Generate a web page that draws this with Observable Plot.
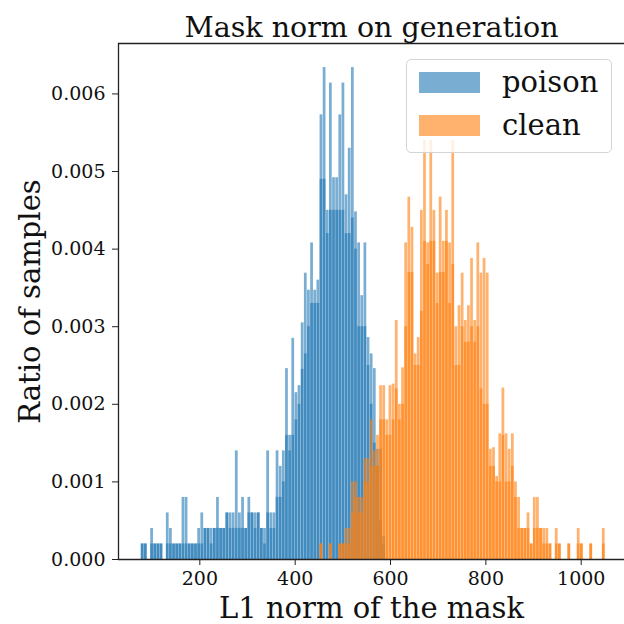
<!DOCTYPE html>
<html>
<head>
<meta charset="utf-8">
<script src="https://cdn.jsdelivr.net/npm/d3@7"></script>
<script src="https://cdn.jsdelivr.net/npm/@observablehq/plot@0.6"></script>
<style>
  body { margin: 0; background: #fff; }
  #chart { position: relative; width: 624px; height: 624px; font-family: "DejaVu Serif", serif; color: #111; }
  #chart svg { display: block; }
  .legend { position: absolute; left: 406px; top: 59px; width: 206px; height: 94px;
            box-sizing: border-box; border: 1px solid #d4d4d4; border-radius: 5px;
            background: rgba(255,255,255,0.8); }
  .legend .sw { position: absolute; left: 12px; width: 61px; height: 21px; }
  .legend .lab { position: absolute; left: 95px; font-size: 29px; line-height: 29px; }
</style>
</head>
<body>
<div id="chart"></div>
<script>
// Shared histogram bin grid (L1 norm units)
const binWidth = 6.58;
const poisonStart = 76.8;
const cleanStart = 451.86;

// Poison samples: two overlaid histogram layers (taller / shorter per bin)
const poisonTop = [
  0.0002, 0.0002, 0, 0.0004, 0.0002, 0.0002, 0.0002, 0, 0.0006, 0.0004,
  0.0002, 0.0002, 0.0002, 0.0008, 0.0008, 0.0002, 0.0002, 0.0002, 0.0004, 0.0006,
  0.0004, 0.0004, 0.0004, 0.0004, 0.0008, 0.0004, 0.0004, 0.0006, 0.0006, 0.0006,
  0.0014, 0.0006, 0.0008, 0.0004, 0.0008, 0.0006, 0.0006, 0.0006, 0.0004, 0.0004,
  0.0014, 0.0006, 0.0006, 0.0014, 0.0012, 0.0014, 0.00246, 0.0016, 0.00285, 0.00215,
  0.00224, 0.00305, 0.00369, 0.00347, 0.00408, 0.00347, 0.0036, 0.00573, 0.00634, 0.0045,
  0.00614, 0.00492, 0.00492, 0.00573, 0.00614, 0.0047, 0.0053, 0.00634, 0.00448, 0.00408,
  0.0034, 0.00408, 0.00286, 0.00265, 0.00246, 0.00142, 0.00142, 0.0003
];
const poisonBase = [
  0.0002, 0.0002, 0, 0.0002, 0.0002, 0.0002, 0.0002, 0, 0.0002, 0.0002,
  0.0002, 0.0002, 0.0002, 0.0002, 0.0002, 0.0002, 0.0002, 0.0002, 0.0002, 0.0002,
  0.0004, 0.0004, 0.0002, 0.0004, 0.0004, 0.0004, 0.0004, 0.0006, 0.0004, 0.0004,
  0.0004, 0.0004, 0.0004, 0.0004, 0.0006, 0.0006, 0.0004, 0.0006, 0.0004, 0.0002,
  0.0006, 0.0004, 0.0004, 0.0008, 0.0008, 0.001, 0.0016, 0.0014, 0.0016, 0.0018,
  0.002, 0.00245, 0.00265, 0.003, 0.0033, 0.0033, 0.0033, 0.0049, 0.0049, 0.0042,
  0.0045, 0.0045, 0.0045, 0.0045, 0.0045, 0.0042, 0.0042, 0.0044, 0.004, 0.003,
  0.003, 0.003, 0.0025, 0.002, 0.0015, 0.0012, 0.0005, 0.0002
];

// Clean samples: two overlaid histogram layers (taller / shorter per bin)
const cleanTop = [
  0.0002, 0, 0, 0.0002, 0, 0, 0.0002, 0.0002, 0.0004, 0.0004,
  0.001, 0.001, 0.0008, 0.0008, 0.0013, 0.0013, 0.0018, 0.0014, 0.0016, 0.00224,
  0.00224, 0.0018, 0.00224, 0.00226, 0.00308, 0.002, 0.00247, 0.00408, 0.00467, 0.00428,
  0.00265, 0.00286, 0.0045, 0.0054, 0.00408, 0.0054, 0.0045, 0.00369, 0.00467, 0.0041,
  0.0045, 0.00408, 0.0054, 0.003, 0.00327, 0.00369, 0.00308, 0.00327, 0.00388, 0.00308,
  0.00408, 0.00369, 0.00388, 0.00369, 0.00142, 0.00144, 0.00107, 0.00162, 0.00221, 0.00162,
  0.00142, 0.00162, 0.001, 0.0008, 0.0004, 0.0004, 0.0006, 0.0002, 0.0008, 0.0008,
  0.0004, 0.0004, 0.0004, 0.0002, 0, 0.0004, 0.0002, 0, 0, 0.0002,
  0, 0, 0.0004, 0.0002, 0, 0, 0.0002, 0, 0, 0,
  0.0004, 0
];
const cleanBase = [
  0.0002, 0, 0, 0.0002, 0, 0, 0.0002, 0.0002, 0.0002, 0.0002,
  0.0006, 0.0008, 0.0006, 0.0006, 0.001, 0.001, 0.0012, 0.0012, 0.0012, 0.0018,
  0.0018, 0.0016, 0.0016, 0.0018, 0.0022, 0.0018, 0.002, 0.003, 0.0037, 0.0037,
  0.0025, 0.0025, 0.0032, 0.0041, 0.0038, 0.0041, 0.0041, 0.0033, 0.0037, 0.0037,
  0.0041, 0.0033, 0.0038, 0.0025, 0.0025, 0.003, 0.0028, 0.0028, 0.003, 0.0028,
  0.003, 0.0022, 0.002, 0.002, 0.0012, 0.0012, 0.001, 0.001, 0.0016, 0.001,
  0.001, 0.0012, 0.0008, 0.0004, 0.0004, 0.0004, 0.0004, 0.0002, 0.0004, 0.0004,
  0.0004, 0.0002, 0.0002, 0.0002, 0, 0.0002, 0.0002, 0, 0, 0.0002,
  0, 0, 0.0002, 0.0002, 0, 0, 0.0002, 0, 0, 0,
  0.0002, 0
];

const seriesNames = ["poison", "clean"];
const seriesColors = ["#1f77b4", "#ff7f0e"];
const barOpacity = 0.6;

const xTicks = [200, 400, 600, 800, 1000];
const yTicks = [0, 0.001, 0.002, 0.003, 0.004, 0.005, 0.006];
const xDomain = [29.4, 1090.8];
const yDomain = [0, 0.00665];

// Turn per-bin heights into rectangles on the shared bin grid
function toBins(start, values) {
  return values
    .map((v, i) => ({x1: start + i * binWidth, x2: start + (i + 1) * binWidth, y: v}))
    .filter(d => d.y > 0);
}

const layers = [
  [toBins(poisonStart, poisonTop), seriesColors[0]],
  [toBins(poisonStart, poisonBase), seriesColors[0]],
  [toBins(cleanStart, cleanTop), seriesColors[1]],
  [toBins(cleanStart, cleanBase), seriesColors[1]]
];

const spine = {stroke: "#222", strokeWidth: 1.3};

const chart = Plot.plot({
  width: 624,
  height: 624,
  marginLeft: 118,
  marginRight: 0,
  marginTop: 43,
  marginBottom: 65,
  style: {fontFamily: "DejaVu Serif, serif", color: "#111", background: "#fff"},
  x: {domain: xDomain},
  y: {domain: yDomain},
  marks: [
    ...layers.map(([bins, color]) =>
      Plot.rectY(bins, {x1: "x1", x2: "x2", y: "y", fill: color, fillOpacity: barOpacity,
                        insetLeft: 0.2, insetRight: 0.2})
    ),
    Plot.axisX({ticks: xTicks, tickFormat: d3.format("d"), tickSize: 6, tickPadding: 6, fontSize: 19, label: null, stroke: "#222"}),
    Plot.axisY({ticks: yTicks, tickFormat: d3.format(".3f"), tickSize: 6, tickPadding: 7, fontSize: 19, label: null, stroke: "#222"}),
    Plot.ruleX([xDomain[0]], spine),
    Plot.ruleY([yDomain[0]], spine),
    Plot.ruleY([yDomain[1]], spine),
    Plot.text(["Mask norm on generation"], {frameAnchor: "top", lineAnchor: "bottom", dy: -7, fontSize: 28.5, fill: "#111"}),
    Plot.text(["L1 norm of the mask"], {frameAnchor: "bottom", lineAnchor: "bottom", dy: 58, fontSize: 29, fill: "#111"}),
    Plot.text(["Ratio of samples"], {frameAnchor: "left", textAnchor: "middle", lineAnchor: "middle", rotate: -90, dx: -88, fontSize: 29, fill: "#111"})
  ]
});

const root = document.getElementById("chart");
root.appendChild(chart);

// Legend box drawn over the upper right of the plot area
const legend = document.createElement("div");
legend.className = "legend";
seriesNames.forEach((name, i) => {
  const sw = document.createElement("div");
  sw.className = "sw";
  sw.style.top = (12 + i * 43) + "px";
  sw.style.background = seriesColors[i];
  sw.style.opacity = barOpacity;
  legend.appendChild(sw);
  const lab = document.createElement("div");
  lab.className = "lab";
  lab.style.top = (8 + i * 43) + "px";
  lab.textContent = name;
  legend.appendChild(lab);
});
root.appendChild(legend);
</script>
</body>
</html>
